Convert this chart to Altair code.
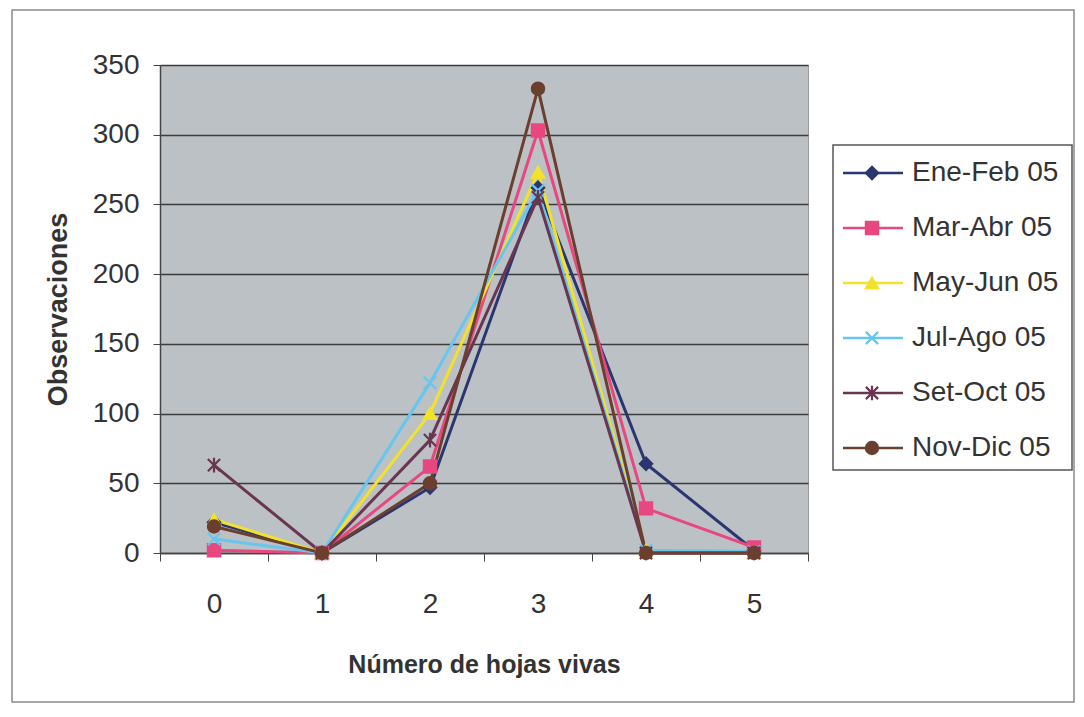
import altair as alt
import pandas as pd

categories = [0, 1, 2, 3, 4, 5]
series_names = ["Ene-Feb 05", "Mar-Abr 05", "May-Jun 05", "Jul-Ago 05", "Set-Oct 05", "Nov-Dic 05"]
ene_feb = [22, 0, 47, 262, 64, 2]
mar_abr = [2, 0, 62, 303, 32, 4]
may_jun = [24, 0, 100, 273, 2, 0]
jul_ago = [10, 0, 122, 260, 2, 1]
set_oct = [63, 0, 81, 255, 0, 0]
nov_dic = [19, 0, 50, 333, 0, 0]

all_values = [ene_feb, mar_abr, may_jun, jul_ago, set_oct, nov_dic]
colors = ["#2b3670", "#e8477f", "#f2e22a", "#66c6ee", "#6a3550", "#6b3f2e"]
shapes = ["diamond", "square", "triangle-up",
          "M-1,-1L1,1M-1,1L1,-1",
          "M-1,-1L1,1M-1,1L1,-1M0,-1.2L0,1.2",
          "circle"]

rows = []
for name, vals in zip(series_names, all_values):
    for c, v in zip(categories, vals):
        rows.append({"series": name, "hojas": str(c), "obs": v})
df = pd.DataFrame(rows)
leg = pd.DataFrame({"series": series_names})
one = pd.DataFrame({"k": [0]})

FONT = "Liberation Sans"
W, H = 648, 488

color_scale = alt.Scale(domain=series_names, range=colors)
shape_scale = alt.Scale(domain=series_names, range=shapes)
xenc = alt.X("hojas:O", sort=[str(c) for c in categories],
             scale=alt.Scale(type="band", paddingInner=0, paddingOuter=0),
             bandPosition=0.5,
             axis=alt.Axis(title="Número de hojas vivas", labelAngle=0, tickBand="extent",
                           labelFont=FONT, labelFontSize=28, labelColor="#333333",
                           labelPadding=29, tickSize=8, tickColor="#444444",
                           domainColor="#444444", domainWidth=1.5,
                           titleFont=FONT, titleFontSize=25, titleFontWeight="bold",
                           titleColor="#333333", titlePadding=34))
yscale = alt.Scale(domain=[0, 350], nice=False)

frame = alt.Chart(one).mark_rect(fillOpacity=0, stroke="#8a8a8a", strokeWidth=1.5).encode(
    x=alt.value(-148), x2=alt.value(914), y=alt.value(-55), y2=alt.value(637))

lines = alt.Chart(df).mark_line(strokeWidth=3).encode(
    x=xenc,
    y=alt.Y("obs:Q", scale=yscale,
            axis=alt.Axis(title="Observaciones", values=list(range(0, 351, 50)),
                          labelFont=FONT, labelFontSize=28, labelColor="#333333",
                          labelPadding=14, tickSize=7, tickColor="#444444",
                          domainColor="#444444", domainWidth=1.5,
                          gridColor="#3c3c3c", gridWidth=1.5,
                          titleFont=FONT, titleFontSize=27, titleFontWeight="bold",
                          titleColor="#333333", titlePadding=20)),
    color=alt.Color("series:N", scale=color_scale, legend=None),
    detail="series:N",
)

points = alt.Chart(df).mark_point(filled=True, size=150, strokeWidth=2.2, opacity=1).encode(
    x=xenc,
    y=alt.Y("obs:Q", scale=yscale, axis=None),
    fill=alt.Color("series:N", scale=color_scale, legend=None),
    stroke=alt.Color("series:N", scale=color_scale, legend=None),
    shape=alt.Shape("series:N", scale=shape_scale, legend=None),
)

legend_box = alt.Chart(one).mark_rect(fill="white", stroke="#555555", strokeWidth=1.5).encode(
    x=alt.value(673), x2=alt.value(912), y=alt.value(80), y2=alt.value(405))

leg_y = alt.Y("series:N", sort=series_names,
              scale=alt.Scale(type="point", domain=series_names, range=[108, 383], padding=0),
              axis=None)
leg_rule = alt.Chart(leg).mark_rule(strokeWidth=2.5).encode(
    x=alt.value(683), x2=alt.value(743), y=leg_y,
    color=alt.Color("series:N", scale=color_scale, legend=None))
leg_pt = alt.Chart(leg).mark_point(filled=True, size=150, strokeWidth=2.2, opacity=1).encode(
    x=alt.value(712), y=leg_y,
    fill=alt.Color("series:N", scale=color_scale, legend=None),
    stroke=alt.Color("series:N", scale=color_scale, legend=None),
    shape=alt.Shape("series:N", scale=shape_scale, legend=None))
leg_txt = alt.Chart(leg).mark_text(align="left", baseline="middle", font=FONT, fontSize=28,
                                   color="#333333").encode(
    x=alt.value(752), y=leg_y, text="series:N")

chart = alt.layer(frame, lines, points, legend_box, leg_rule, leg_pt, leg_txt).resolve_scale(
    y="independent"
).properties(
    width=W, height=H,
    autosize=alt.AutoSizeParams(type="none"),
    padding={"left": 160, "top": 65, "right": 276, "bottom": 164},
    background="white",
).configure_view(fill="#bcc1c5", stroke="#9a9a9a", strokeWidth=1)

chart.save("out.html", embed_options={"renderer": "svg", "actions": False})
